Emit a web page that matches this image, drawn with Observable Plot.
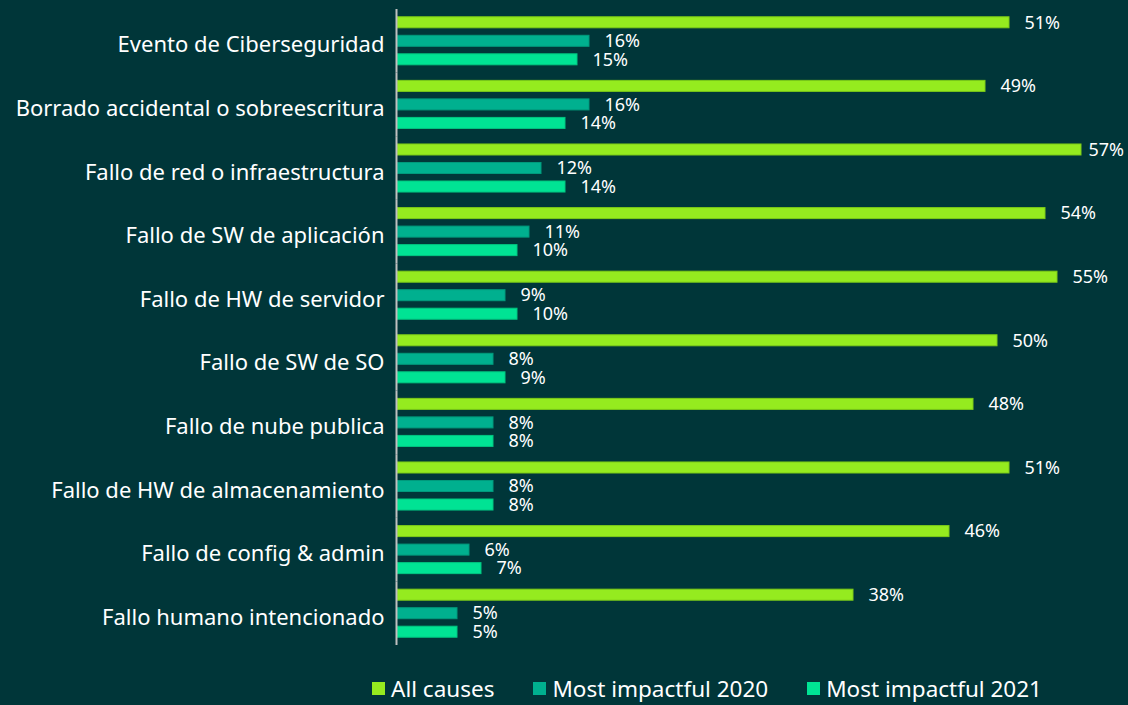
<!DOCTYPE html>
<html>
<head>
<meta charset="utf-8">
<script src="https://cdn.jsdelivr.net/npm/d3@7"></script>
<script src="https://cdn.jsdelivr.net/npm/@observablehq/plot@0.6"></script>
<style>
  html, body { margin: 0; padding: 0; background: #003639; overflow: hidden; }
  #chart svg { display: block; }
  #legend { display: flex; align-items: center; margin-left: 372px; height: 33px;
    font-family: "Noto Sans", sans-serif; font-size: 22.5px; color: #ffffff; }
  #legend .item { display: flex; align-items: center; margin-right: 39px; }
  #legend .sw { width: 13px; height: 13px; margin-right: 6px; }
</style>
</head>
<body>
<div id="chart"></div>
<div id="legend"></div>
<script>
const categories = [
  "Evento de Ciberseguridad",
  "Borrado accidental o sobreescritura",
  "Fallo de red o infraestructura",
  "Fallo de SW de aplicación",
  "Fallo de HW de servidor",
  "Fallo de SW de SO",
  "Fallo de nube publica",
  "Fallo de HW de almacenamiento",
  "Fallo de config & admin",
  "Fallo humano intencionado"
];
const seriesNames = ["All causes", "Most impactful 2020", "Most impactful 2021"];
const allCauses = [51, 49, 57, 54, 55, 50, 48, 51, 46, 38];
const impact2020 = [16, 16, 12, 11, 9, 8, 8, 8, 6, 5];
const impact2021 = [15, 14, 14, 10, 10, 9, 8, 8, 7, 5];
const colors = ["#95eb1f", "#00b08f", "#00e394"];
const strokes = ["#7ccb18", "#009a7c", "#00c681"];

const seriesValues = [allCauses, impact2020, impact2021];
const data = categories.flatMap((c, i) =>
  seriesNames.map((s, j) => ({cat: c, series: s, v: seriesValues[j][i]}))
);
const xMax = 60;
const nearEdge = d => d.v > 56;

const marks = [
  Plot.barX(data, {fy: "cat", y: "series", x: "v", fill: "series",
    stroke: d => strokes[seriesNames.indexOf(d.series)], strokeWidth: 1}),
  Plot.text(data.filter(d => !nearEdge(d)), {fy: "cat", y: "series", x: "v", text: d => d.v + "%",
    textAnchor: "start", dx: 15, fill: "#ffffff", fontSize: 18}),
  Plot.text(data.filter(nearEdge), {fy: "cat", y: "series", x: "v", text: d => d.v + "%",
    textAnchor: "start", dx: 7, fill: "#ffffff", fontSize: 18}),
  Plot.ruleX([0], {stroke: "#c0c0c0", strokeWidth: 2, dx: -1})
];
const hasAxisFy = typeof Plot.axisFy === "function";
if (hasAxisFy) {
  marks.push(Plot.axisFy({anchor: "left", tickSize: 0, tickPadding: 13, fontSize: 22,
    fill: "#ffffff", label: null, dy: 4}));
}

const chart = Plot.plot({
  width: 1128,
  height: 672,
  marginLeft: 397,
  marginRight: 11,
  marginTop: 9,
  marginBottom: 27,
  style: {background: "transparent", fontFamily: "'Noto Sans', sans-serif", fontSize: "22px", color: "#ffffff", overflow: "visible"},
  x: {domain: [0, xMax], axis: null},
  y: {domain: seriesNames, axis: null, paddingInner: 0.405, paddingOuter: 0.42, round: false},
  fy: hasAxisFy ? {domain: categories, padding: 0, axis: null, label: null, round: false}
                : {domain: categories, padding: 0, label: null, tickSize: 0, tickPadding: 13, round: false},
  color: {domain: seriesNames, range: colors},
  marks
});
document.getElementById("chart").appendChild(chart);

const legend = document.getElementById("legend");
seriesNames.forEach((s, i) => {
  const item = document.createElement("div");
  item.className = "item";
  const sw = document.createElement("div");
  sw.className = "sw";
  sw.style.background = colors[i];
  const t = document.createElement("span");
  t.textContent = s;
  item.appendChild(sw);
  item.appendChild(t);
  legend.appendChild(item);
});
</script>
</body>
</html>
